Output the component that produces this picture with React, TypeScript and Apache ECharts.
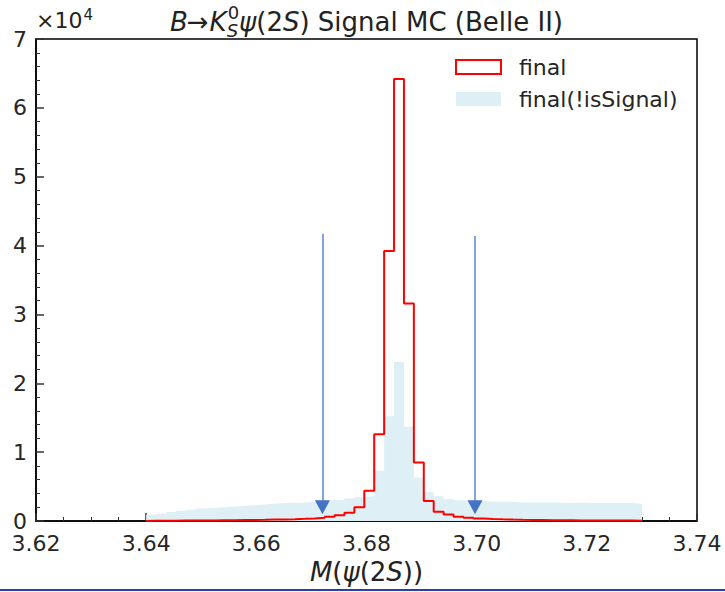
import React, { useEffect, useRef } from "react";
import * as echarts from "echarts";

// Histogram definition (50 bins from 3.64 to 3.73)
const HIST_MIN = 3.64;
const HIST_MAX = 3.73;
const N_BINS = 50;

// "final" (red outline) counts per bin
const finalCounts = [
  40, 50, 50, 60, 70, 80, 90, 100, 110, 130,
  150, 170, 200, 230, 270, 320, 380, 470, 600, 850,
  1200, 2000, 4400, 12600, 39200, 64200, 31600, 8500, 2900, 1350,
  950, 620, 470, 360, 300, 250, 210, 180, 160, 140,
  120, 110, 100, 90, 80, 70, 70, 60, 60, 50,
];

// "final(!isSignal)" (light blue filled) counts per bin
const bkgCounts = [
  900, 1100, 1300, 1500, 1650, 1800, 1900, 2000, 2100, 2200,
  2300, 2400, 2500, 2600, 2650, 2700, 2800, 2900, 3000, 3100,
  3300, 3500, 3600, 7300, 15200, 23100, 13700, 6300, 4200, 3600,
  3200, 3000, 2900, 2900, 2800, 2800, 2800, 2700, 2700, 2700,
  2700, 2700, 2600, 2700, 2600, 2600, 2600, 2600, 2600, 2500,
];

// Axis ranges
const X_MIN = 3.62;
const X_MAX = 3.74;
const X_STEP = 0.02;
const Y_MIN = 0;
const Y_MAX = 70000;
const Y_STEP = 10000;
const Y_SCALE = 10000;

// Cut arrows
const cutPositions = [3.672, 3.6997];
const cutArrowTops = [41700, 41400];
const arrowHeadCenter = 2000;

const legendNames = ["final", "final(!isSignal)"];

const FONT = '"DejaVu Sans", sans-serif';

function binEdge(i: number) {
  return HIST_MIN + (i * (HIST_MAX - HIST_MIN)) / N_BINS;
}

function stepOutline(counts: number[]) {
  const pts: number[][] = [[HIST_MIN, 0]];
  counts.forEach((c, i) => pts.push([binEdge(i), c]));
  pts.push([HIST_MAX, 0]);
  return pts;
}

let measureCtx: CanvasRenderingContext2D | null = null;
function tw(text: string, size: number, italic: boolean) {
  if (!measureCtx) measureCtx = document.createElement("canvas").getContext("2d");
  measureCtx!.font = `${italic ? "italic " : ""}${size}px "DejaVu Sans"`;
  return measureCtx!.measureText(text).width;
}

function txt(text: string, x: number, baseline: number, size: number, italic: boolean, color = "#222") {
  return {
    type: "text",
    x,
    y: baseline - size * 0.36,
    silent: true,
    style: {
      text,
      fontSize: size,
      fontFamily: FONT,
      fontStyle: italic ? "italic" : "normal",
      fill: color,
      textAlign: "left",
      textVerticalAlign: "middle",
      align: "left",
      verticalAlign: "middle",
    },
  };
}

function buildTitle(centerX: number, baseline: number) {
  const S = 26;
  const s = 18;
  type P = { t?: string; it?: boolean; sp?: number; sub?: string; sup?: string };
  const parts: P[] = [
    { t: "B", it: true },
    { sp: -1 },
    { t: "→" },
    { sp: 1 },
    { t: "K", it: true },
    { sub: "S", sup: "0" },
    { sp: 1 },
    { t: "ψ", it: true },
    { t: "(2" },
    { t: "S", it: true },
    { t: ") Signal MC (Belle II)" },
  ];
  let total = 0;
  const widths = parts.map((p) => {
    let w = 0;
    if (p.sp) w = p.sp;
    else if (p.t) w = tw(p.t, S, !!p.it);
    else w = Math.max(tw(p.sub || "", s, true), tw(p.sup || "", s, false));
    total += w;
    return w;
  });
  let x = centerX - total / 2;
  const els: any[] = [];
  parts.forEach((p, i) => {
    if (p.t) els.push(txt(p.t, x, baseline, S, !!p.it));
    else if (p.sub) {
      els.push(txt(p.sub, x, baseline + 6, s, true));
      els.push(txt(p.sup || "", x + 1, baseline - 12, s, false));
    }
    x += widths[i];
  });
  return els;
}

function buildOffsetText(x: number, baseline: number) {
  const w = tw("×10", 22, false);
  return [txt("×10", x, baseline, 22, false), txt("4", x + w + 1, baseline - 8, 15, false)];
}

export default function App() {
  const ref = useRef<HTMLDivElement>(null);
  useEffect(() => {
    if (!ref.current) return;
    const chart = echarts.init(ref.current, null, { renderer: "svg" });
    const axisLabel = {
      fontSize: 22,
      fontFamily: FONT,
      color: "#262626",
    };
    const option: any = {
      animation: false,
      backgroundColor: "#fff",
      grid: {
        left: 36,
        right: 28,
        top: 39,
        bottom: 71,
        show: true,
        borderColor: "#000",
        borderWidth: 1.5,
        backgroundColor: "transparent",
      },
      legend: {
        left: 455,
        top: 56,
        padding: 0,
        orient: "vertical",
        itemWidth: 45,
        itemHeight: 14,
        itemGap: 10,
        textStyle: { fontSize: 22, fontFamily: FONT, color: "#262626", padding: [0, 0, 0, 13] },
        data: [
          {
            name: legendNames[0],
            icon: "rect",
            itemStyle: { color: "rgba(255,255,255,0)", borderColor: "#ff0000", borderWidth: 2 },
          },
          {
            name: legendNames[1],
            icon: "rect",
            itemStyle: { color: "#deeff5", borderWidth: 0 },
          },
        ],
      },
      xAxis: {
        type: "value",
        min: X_MIN,
        max: X_MAX,
        interval: X_STEP,
        axisLine: { show: true, onZero: false, lineStyle: { color: "#000", width: 1.5 } },
        axisTick: { show: true, inside: true, length: 8, lineStyle: { color: "#333", width: 1.5 } },
        minorTick: { show: true, splitNumber: 4, length: 4, lineStyle: { color: "#333", width: 1 } },
        splitLine: { show: false },
        minorSplitLine: { show: false },
        axisLabel: { ...axisLabel, margin: 11, formatter: (v: number) => v.toFixed(2) },
        name: "{i|M}{n|(}{i|ψ}{n|(2}{i|S}{n|))}",
        nameLocation: "middle",
        nameGap: 38,
        nameTextStyle: {
          rich: {
            i: { fontSize: 26, fontFamily: FONT, fontStyle: "italic", color: "#222" },
            n: { fontSize: 26, fontFamily: FONT, color: "#222" },
          },
        },
      },
      yAxis: {
        type: "value",
        min: Y_MIN,
        max: Y_MAX,
        interval: Y_STEP,
        axisLine: { show: true, onZero: false, lineStyle: { color: "#000", width: 1.5 } },
        axisTick: { show: true, inside: true, length: 8, lineStyle: { color: "#333", width: 1.5 } },
        minorTick: { show: true, splitNumber: 5, length: 4, lineStyle: { color: "#333", width: 1 } },
        splitLine: { show: false },
        minorSplitLine: { show: false },
        axisLabel: { ...axisLabel, margin: 9, formatter: (v: number) => String(Math.round(v / Y_SCALE)) },
      },
      graphic: [
        ...buildTitle(366.5, 31),
        ...buildOffsetText(36, 28),
        {
          type: "line",
          silent: true,
          shape: { x1: 0, y1: 590, x2: 725, y2: 590 },
          style: { stroke: "#2a3cb0", lineWidth: 2 },
        },
      ],
      series: [
        {
          name: legendNames[1],
          type: "line",
          step: "end",
          symbol: "none",
          data: stepOutline(bkgCounts),
          lineStyle: { width: 0, opacity: 0 },
          itemStyle: { color: "#deeff5" },
          areaStyle: { color: "#deeff5", opacity: 1 },
          z: 1,
          silent: true,
        },
        {
          name: legendNames[0],
          type: "line",
          step: "end",
          symbol: "none",
          data: stepOutline(finalCounts),
          lineStyle: { color: "#ff0000", width: 2 },
          itemStyle: { color: "#ff0000" },
          z: 3,
          silent: true,
        },
        {
          name: "cuts",
          type: "scatter",
          data: [],
          z: 4,
          silent: true,
          markLine: {
            silent: true,
            symbol: ["none", "none"],
            label: { show: false },
            lineStyle: { color: "#80a4dd", width: 2, type: "solid" },
            data: cutPositions.map((c, i) => [
              { coord: [c, cutArrowTops[i]] },
              { coord: [c, arrowHeadCenter] },
            ]),
          },
          markPoint: {
            silent: true,
            symbol: "triangle",
            symbolSize: [15, 14],
            symbolRotate: 180,
            label: { show: false },
            itemStyle: { color: "#4472c4" },
            data: cutPositions.map((c) => ({ coord: [c, arrowHeadCenter] })),
          },
        },
      ],
    };
    chart.setOption(option);
    return () => chart.dispose();
  }, []);
  return (
    <div
      ref={ref}
      style={{ position: "fixed", left: 0, top: 0, width: 725, height: 592, background: "#fff" }}
    />
  );
}
